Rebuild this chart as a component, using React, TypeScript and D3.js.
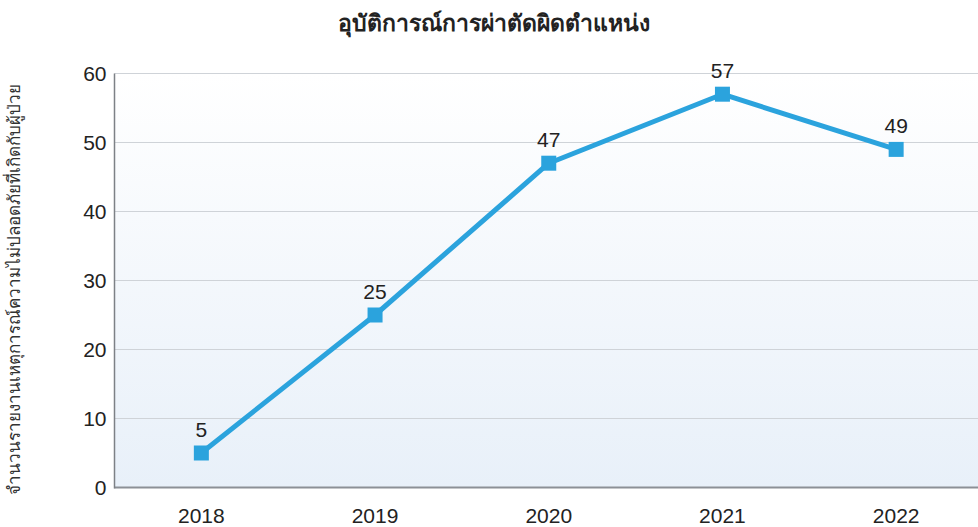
import React from "react";
import * as d3 from "d3";

const years = ["2018", "2019", "2020", "2021", "2022"];
const values = [5, 25, 47, 57, 49];
const yTicks = [0, 10, 20, 30, 40, 50, 60];
const title = "อุบัติการณ์การผ่าตัดผิดตำแหน่ง";
const yLabel = "จำนวนรายงานเหตุการณ์ความไม่ปลอดภัยที่เกิดกับผู้ป่วย";

export default function App() {
  const W = 978, H = 527;
  const left = 114.5, top = 73.5, bottom = 487.5, right = 983;
  const x = d3.scalePoint<string>().domain(years).range([left, right]).padding(0.5);
  const y = d3.scaleLinear().domain([0, 60]).range([bottom, top]);
  const line = d3.line<number>().x((_, i) => x(years[i])!).y((d) => y(d));
  const font = "'Liberation Sans', Arial, 'Noto Sans', sans-serif";
  return (
    <svg width={W} height={H} style={{ position: "absolute", left: 0, top: 0, fontFamily: font }}>
      <defs>
        <linearGradient id="bg" x1="0" y1="0" x2="0" y2="1">
          <stop offset="0" stopColor="#ffffff" />
          <stop offset="1" stopColor="#e8f0f9" />
        </linearGradient>
      </defs>
      <rect x={left} y={top} width={W - left} height={bottom - top} fill="url(#bg)" />
      {yTicks.map((t) => (
        <g key={t}>
          {t > 0 && <line x1={left} x2={W} y1={y(t)} y2={y(t)} stroke="#cfd3d8" strokeWidth={1} />}
          <text x={left - 8} y={y(t)} dy="0.36em" textAnchor="end" fontSize={21} fill="#222">{t}</text>
        </g>
      ))}
      <line x1={left} x2={W} y1={bottom} y2={bottom} stroke="#8c9096" strokeWidth={2} />
      <line x1={left} x2={left} y1={top} y2={bottom + 1} stroke="#7d8186" strokeWidth={1.5} />
      {years.map((yr) => (
        <text key={yr} x={x(yr)} y={523} textAnchor="middle" fontSize={21} fill="#222">{yr}</text>
      ))}
      <path d={line(values)!} fill="none" stroke="#2ba3dd" strokeWidth={5} strokeLinejoin="round" />
      {values.map((v, i) => (
        <g key={i}>
          <rect x={x(years[i])! - 7.5} y={y(v) - 7.5} width={15} height={15} fill="#2ba3dd" />
          <text x={x(years[i])} y={y(v) - 16} textAnchor="middle" fontSize={21} fill="#222">{v}</text>
        </g>
      ))}
      <text x={494} y={31} textAnchor="middle" fontSize={23} fontWeight="bold" fill="#222">{title}</text>
      <text transform={`translate(20, 289) rotate(-90)`} textAnchor="middle" fontSize={17} fill="#333">{yLabel}</text>
    </svg>
  );
}
